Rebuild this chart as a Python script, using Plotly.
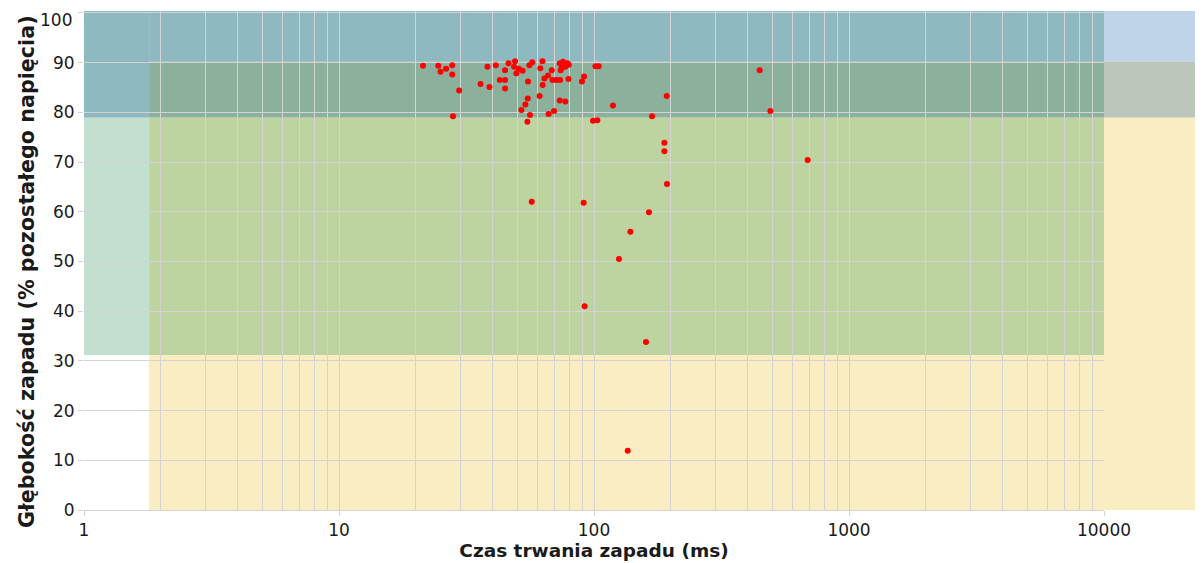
import plotly.graph_objects as go

# Data: voltage sag events
duration_ms = [21.35, 24.5, 25.0, 26.3, 27.8, 27.8, 29.6, 28.0, 38.2, 41.2,
               35.9, 38.9, 42.7, 44.8, 44.8, 44.8, 46.2, 49.0, 48.6, 50.7,
               52.5, 49.6, 55.8, 57.3, 55.1, 55.0, 53.8, 51.9, 56.1, 54.8,
               62.8, 61.6, 68.3, 66.0, 63.9, 62.9, 61.2, 68.7, 71.2, 73.6,
               79.4, 73.4, 77.2, 69.7, 66.4, 73.4, 75.6, 78.7, 79.6, 74.7,
               77.2, 74.0, 91.4, 89.7, 101.3, 104.3, 118.7, 99.1, 103.1, 192.8,
               168.9, 446.4, 491.7, 188.8, 188.8, 193.3, 91.1, 57.0, 164.3, 138.9,
               125.3, 91.9, 159.9, 135.6, 688.6]
depth_pct = [89.4, 89.4, 88.2, 88.8, 89.5, 87.6, 84.4, 79.2, 89.2, 89.5,
             85.7, 85.1, 86.5, 86.5, 88.5, 84.8, 89.9, 90.3, 89.2, 88.8,
             88.4, 87.9, 89.5, 90.1, 86.2, 82.8, 81.6, 80.5, 79.5, 78.1,
             90.3, 88.9, 88.5, 87.4, 86.8, 85.5, 83.3, 86.5, 86.5, 86.5,
             86.7, 82.4, 82.2, 80.3, 79.7, 89.9, 90.2, 89.9, 89.6, 89.0,
             89.2, 88.5, 87.2, 86.2, 89.3, 89.3, 81.4, 78.3, 78.4, 83.3,
             79.2, 88.5, 80.3, 73.9, 72.2, 65.6, 61.8, 62.0, 59.9, 56.0,
             50.5, 41.0, 33.8, 11.9, 70.4]

x_ticks = [1, 10, 100, 1000, 10000]
y_ticks = list(range(0, 101, 10))

# Tolerance zone boundaries
x_min, x_split, x_max = 1, 1.8, 10000
y_min, y_low, y_mid, y_high, y_top = 0, 31.2, 78.9, 90.2, 100.4

C_TEAL = "#8FB9C0"
C_DARK = "#8BB09B"
C_GREEN = "#C2DFD0"
C_GREEN_YEL = "#BDD3A0"
C_YELLOW = "#FBEDC2"
C_BLUE = "#BFD4E8"
C_BLUE_YEL = "#BCC6BB"

fig = go.Figure()
fig.add_trace(go.Scatter(
    x=duration_ms, y=depth_pct, mode="markers",
    marker=dict(color="#FF0000", size=6, line=dict(width=0)),
    showlegend=False, cliponaxis=False))

def rect(x0, x1, y0, y1, color, xref="x", yref="y"):
    fig.add_shape(type="rect", xref=xref, yref=yref, x0=x0, x1=x1, y0=y0, y1=y1,
                  fillcolor=color, line=dict(width=0), layer="below")

rect(x_min, x_split, y_mid, y_top, C_TEAL)
rect(x_split, x_max, y_high, y_top, C_TEAL)
rect(x_split, x_max, y_mid, y_high, C_DARK)
rect(x_min, x_split, y_low, y_mid, C_GREEN)
rect(x_split, x_max, y_low, y_mid, C_GREEN_YEL)
rect(x_split, x_max, y_min, y_low, C_YELLOW)

# Extension of zones beyond the axis (right side)
ext = 1.0892
span = y_top - y_min
rect(1.0, ext, (y_high - y_min) / span, 1.0, C_BLUE, "paper", "paper")
rect(1.0, ext, (y_mid - y_min) / span, (y_high - y_min) / span, C_BLUE_YEL, "paper", "paper")
rect(1.0, ext, 0.0, (y_mid - y_min) / span, C_YELLOW, "paper", "paper")

grid = "#D3D3D3"
txt = "#1a1a1a"
# top tick label is drawn as an annotation, nudged down so it is not cut off
y_ticktext = [str(v) if v != y_ticks[-1] else "" for v in y_ticks]

fig.update_layout(
    width=1204, height=563,
    margin=dict(l=76, r=108, t=3, b=61, autoexpand=False),
    paper_bgcolor="white", plot_bgcolor="white",
    font=dict(family="DejaVu Sans", color=txt),
    xaxis=dict(
        type="log", range=[0, 4], automargin=True,
        tickvals=x_ticks, ticktext=[str(v) for v in x_ticks],
        showgrid=True, gridcolor=grid, gridwidth=1,
        minor=dict(showgrid=True, gridcolor=grid, gridwidth=1, dtick="D1", ticks=""),
        ticks="outside", ticklen=5, tickcolor=grid,
        showline=True, linecolor=grid, linewidth=1,
        zeroline=False, ticklabeloverflow="allow",
        tickfont=dict(size=17, color=txt),
        title=dict(text="<b>Czas trwania zapadu (ms)</b>", font=dict(size=18.5, color=txt), standoff=4),
    ),
    yaxis=dict(
        range=[y_min, y_top], automargin=True,
        tickvals=y_ticks, ticktext=y_ticktext,
        showgrid=True, gridcolor=grid, gridwidth=1,
        ticks="outside", ticklen=5, tickcolor=grid,
        zeroline=False, showline=False, ticklabeloverflow="allow",
        tickfont=dict(size=17, color=txt),
    ),
)
fig.add_annotation(
    text=str(y_ticks[-1]), xref="paper", yref="paper", x=-0.0098, y=0.982,
    xanchor="right", yanchor="middle", showarrow=False,
    font=dict(size=17, color=txt))
fig.add_annotation(
    text="<b>Głębokość zapadu (% pozostałego napięcia)</b>",
    xref="paper", yref="paper", x=-0.0559, y=0.479,
    xanchor="center", yanchor="middle", textangle=-90, showarrow=False,
    font=dict(size=20.7, color=txt))

fig.write_html("out.html")
